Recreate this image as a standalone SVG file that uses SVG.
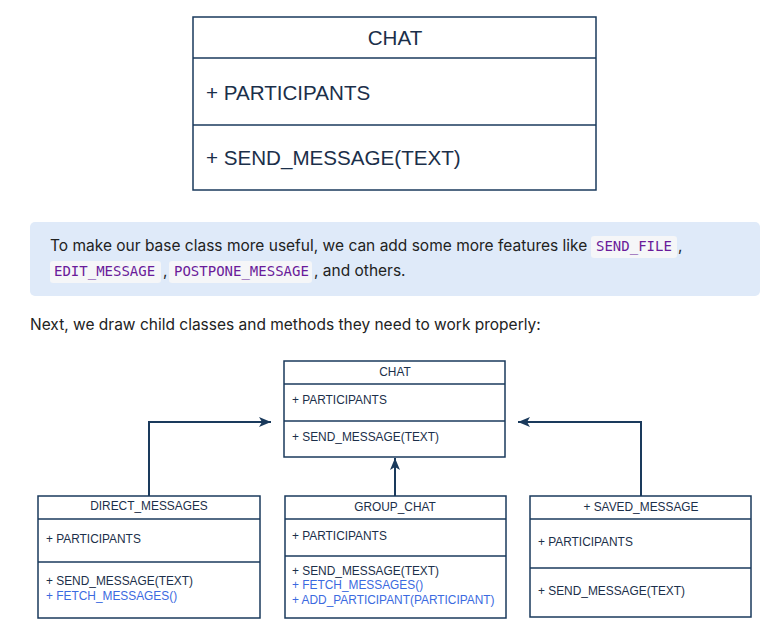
<svg xmlns="http://www.w3.org/2000/svg" width="779" height="635" viewBox="0 0 779 635">
<style>
.box{fill:#fff;stroke:#1a3a5c;stroke-width:1.5}
.ln{stroke:#1a3a5c;stroke-width:1.5;fill:none}
.t{font-family:"Liberation Sans",Arial,sans-serif;fill:#1b2f4a}
.big{font-size:20.6px}
.sm{font-size:11.9px}
.new{fill:#3b6ae0}
.p{font-family:Inter,"Liberation Sans",sans-serif;font-size:15.5px;fill:#222}
.code{font-family:"DejaVu Sans Mono","Liberation Mono",monospace;font-size:14px;fill:#6a1b9a}
.chip{fill:#f5f6f8}
.con{stroke:#1a3a5c;stroke-width:2;fill:none}
</style>
<defs>
<marker id="ah" viewBox="0 0 12 10" refX="12" refY="5" markerWidth="12" markerHeight="10" markerUnits="userSpaceOnUse" orient="auto">
<path d="M0,0 L12,5 L0,10 L3,5 Z" fill="#1a3a5c"/>
</marker>
</defs>
<rect width="779" height="635" fill="#fff"/>
<g id="chat-top">
<rect class="box" x="193" y="17" width="403" height="173"/>
<line class="ln" x1="193" y1="58" x2="596" y2="58"/>
<line class="ln" x1="193" y1="125" x2="596" y2="125"/>
<text class="t big" x="395" y="45" text-anchor="middle">CHAT</text>
<text class="t big" x="206" y="100">+ PARTICIPANTS</text>
<text class="t big" x="206" y="165">+ SEND_MESSAGE(TEXT)</text>
</g>
<g id="note">
<rect x="30" y="222" width="730" height="74" rx="5" fill="#dfeaf9"/>
<rect class="chip" x="591" y="236" width="86" height="22" rx="3"/>
<rect class="chip" x="50" y="261" width="111" height="22" rx="3"/>
<rect class="chip" x="169" y="261" width="143" height="22" rx="3"/>
<text class="p" x="50" y="251">To make our base class more useful, we can add some more features like</text>
<text class="code" x="596" y="251">SEND_FILE</text>
<text class="p" x="678" y="251">,</text>
<text class="code" x="54" y="276">EDIT_MESSAGE</text>
<text class="p" x="163" y="276">,</text>
<text class="code" x="174" y="276">POSTPONE_MESSAGE</text>
<text class="p" x="314" y="276">, and others.</text>
</g>
<text class="p" x="30" y="330">Next, we draw child classes and methods they need to work properly:</text>
<g id="connectors">
<path class="con" d="M149,496 V422 H271" marker-end="url(#ah)"/>
<path class="con" d="M641,496 V422 H518" marker-end="url(#ah)"/>
<path class="con" d="M395,496 V458" marker-end="url(#ah)"/>
</g>
<g id="chat">
<rect class="box" x="284" y="361" width="221" height="96"/>
<line class="ln" x1="284" y1="384" x2="505" y2="384"/>
<line class="ln" x1="284" y1="421" x2="505" y2="421"/>
<text class="t sm" x="395" y="376" text-anchor="middle">CHAT</text>
<text class="t sm" x="292" y="404">+ PARTICIPANTS</text>
<text class="t sm" x="292" y="441">+ SEND_MESSAGE(TEXT)</text>
</g>
<g id="direct-messages">
<rect class="box" x="38" y="496" width="222" height="122"/>
<line class="ln" x1="38" y1="519" x2="260" y2="519"/>
<line class="ln" x1="38" y1="562" x2="260" y2="562"/>
<text class="t sm" x="149" y="510" text-anchor="middle">DIRECT_MESSAGES</text>
<text class="t sm" x="46" y="543">+ PARTICIPANTS</text>
<text class="t sm" x="46" y="585">+ SEND_MESSAGE(TEXT)</text>
<text class="t sm new" x="46" y="600">+ FETCH_MESSAGES()</text>
</g>
<g id="group-chat">
<rect class="box" x="285" y="496" width="221" height="122"/>
<line class="ln" x1="285" y1="519" x2="506" y2="519"/>
<line class="ln" x1="285" y1="556" x2="506" y2="556"/>
<text class="t sm" x="395" y="511" text-anchor="middle">GROUP_CHAT</text>
<text class="t sm" x="292" y="540">+ PARTICIPANTS</text>
<text class="t sm" x="292" y="575">+ SEND_MESSAGE(TEXT)</text>
<text class="t sm new" x="292" y="589">+ FETCH_MESSAGES()</text>
<text class="t sm new" x="292" y="604">+ ADD_PARTICIPANT(PARTICIPANT)</text>
</g>
<g id="saved-message">
<rect class="box" x="530" y="496" width="221" height="121"/>
<line class="ln" x1="530" y1="519" x2="751" y2="519"/>
<line class="ln" x1="530" y1="568" x2="751" y2="568"/>
<text class="t sm" x="641" y="511" text-anchor="middle">+ SAVED_MESSAGE</text>
<text class="t sm" x="538" y="546">+ PARTICIPANTS</text>
<text class="t sm" x="538" y="595">+ SEND_MESSAGE(TEXT)</text>
</g>
</svg>
